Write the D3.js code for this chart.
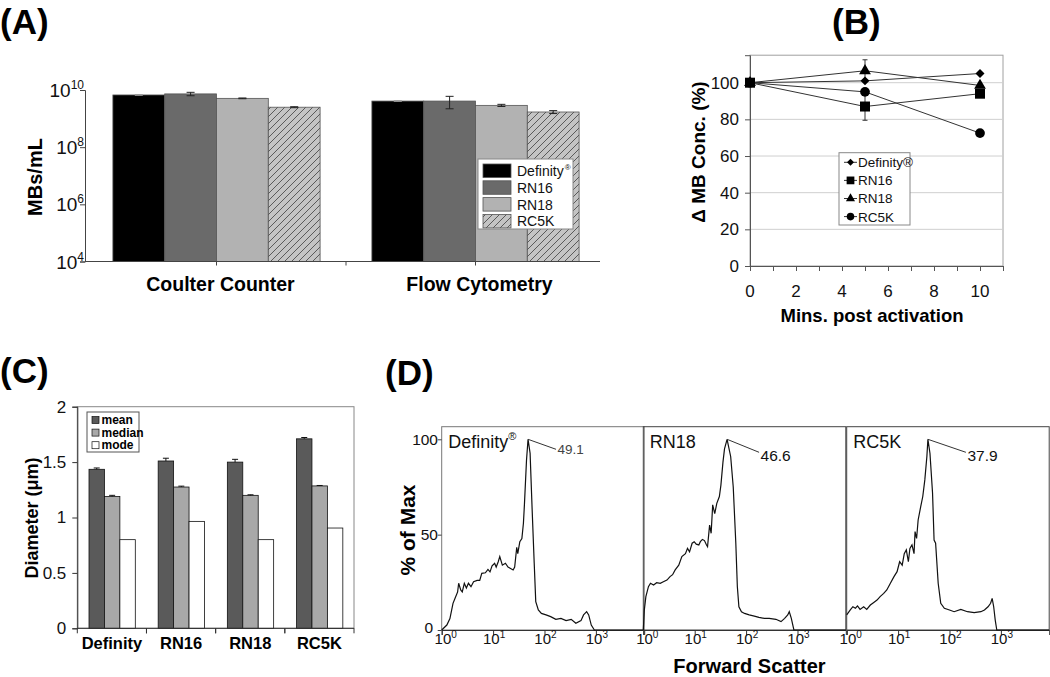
<!DOCTYPE html>
<html><head><meta charset="utf-8">
<script src="https://cdn.jsdelivr.net/npm/d3@7"></script>
<style>body{margin:0;background:#fff}svg{display:block}text{font-family:Arial,"Liberation Sans",sans-serif}</style>
</head><body><svg id="c" width="1050" height="677"></svg>
<script>
// ---------- DATA ----------
// Panel A
const aCategories = ["Coulter Counter", "Flow Cytometry"];
const aSeries = ["Definity", "RN16", "RN18", "RC5K"];
const aDefinity = [6.7e9, 4.1e9];
const aRN16 = [7.3e9, 4.1e9];
const aRN18 = [5.1e9, 2.9e9];
const aRC5K = [2.5e9, 1.7e9];
const aDefinityErr = [0.2e9, 0.1e9];
const aRN16Err = [1.0e9, 1.9e9];
const aRN18Err = [0.15e9, 0.25e9];
const aRC5KErr = [0.1e9, 0.2e9];
const aTickExps = [4, 6, 8, 10];

// Panel B
const bTimes = [0, 5, 10];
const bSeries = ["Definity®", "RN16", "RN18", "RC5K"];
const bDefinity = [100, 101, 105];
const bRN16 = [100, 87, 94];
const bRN18 = [100, 106.5, 98.5];
const bRC5K = [100, 95, 72.5];
const bRN16Err = [0, 7.5, 0];
const bRN18Err = [0, 6, 0];
const bYTicks = [0, 20, 40, 60, 80, 100];
const bXTicks = [0, 2, 4, 6, 8, 10];

// Panel C
const cCategories = ["Definity", "RN16", "RN18", "RC5K"];
const cSeries = ["mean", "median", "mode"];
const cMean = [1.435, 1.51, 1.50, 1.71];
const cMedian = [1.19, 1.275, 1.20, 1.285];
const cMode = [0.80, 0.965, 0.80, 0.905];
const cMeanErr = [0.012, 0.025, 0.025, 0.012];
const cMedianErr = [0.01, 0.008, 0.005, 0.004];
const cYTicks = [0, 0.5, 1, 1.5, 2];

// Panel D (x given as log10 of forward scatter, y as % of max)
const dNames = ["Definity", "RN18", "RC5K"];
const dPeakLabels = ["49.1", "46.6", "37.9"];
const dDefinityLog = [0,0.1,0.16,0.22,0.26,0.31,0.33,0.37,0.4,0.44,0.48,0.52,0.57,0.62,0.69,0.74,0.78,0.85,0.9,0.94,0.98,1.03,1.06,1.1,1.13,1.18,1.24,1.29,1.34,1.39,1.42,1.46,1.48,1.52,1.56,1.59,1.61,1.65,1.68,1.72,1.76,1.8,1.83,1.88,1.94,2.03,2.12,2.22,2.32,2.42,2.52,2.61,2.71,2.76,2.82,2.86,2.91,2.97,3.94];
const dDefinityPct = [0,2.6,6,14,16.6,20,24.5,21,20,24.5,22,24.5,22.7,25.3,26,26,29.7,30,31.8,30.5,33.6,35,33,35.8,38.5,34,35,33,32.3,31.5,33,43.4,40,46.3,48,56,66,89,100,92.7,63,35,14.9,10.5,8.7,7.9,7,5.6,6.1,4.9,5.6,3.5,4.9,7.9,9.6,7.9,2.6,0,0];
const dRN18Log = [0,0.02,0.05,0.1,0.14,0.2,0.26,0.33,0.39,0.46,0.52,0.57,0.62,0.69,0.75,0.82,0.86,0.9,0.95,0.99,1.03,1.08,1.11,1.15,1.19,1.23,1.25,1.29,1.32,1.35,1.39,1.43,1.48,1.51,1.55,1.58,1.63,1.7,1.75,1.8,1.83,1.86,1.91,1.97,2.06,2.16,2.25,2.35,2.45,2.58,2.68,2.75,2.81,2.84,2.88,2.93,3.94];
const dRN18Pct = [0,10.5,17.5,22.7,24.5,23.6,24.8,24.5,25.3,26.2,28,29,31.5,34,38.5,40,42.8,41,45.5,46.3,45,44.6,46.3,47.5,46.9,44.6,43.7,55,50.7,65.6,61,66.4,70,76,88,95,100,91,75,45.5,22.7,12.2,9.6,8.7,7.9,7.3,6.6,6.1,6.1,5.6,4.4,6.1,7.9,9.6,6.1,0,0];
const dRC5KLog = [0,0.07,0.12,0.17,0.21,0.26,0.33,0.39,0.46,0.52,0.59,0.65,0.72,0.78,0.85,0.92,0.98,1.03,1.08,1.12,1.16,1.2,1.23,1.27,1.31,1.33,1.36,1.39,1.44,1.48,1.52,1.56,1.58,1.62,1.67,1.7,1.73,1.78,1.83,1.9,2.0,2.09,2.22,2.35,2.48,2.61,2.68,2.75,2.8,2.83,2.86,2.89,2.92,3.94];
const dRC5KPct = [7.9,10.5,12.2,11.4,12.6,10.8,12.2,10.8,13.1,14.3,15.7,17.5,19.2,21,24.5,28,30.6,35.8,34,40,42,35.8,42.8,44.6,40,51.6,48,57.7,64.7,70,78.7,91,100,92.7,72,47.2,45.5,24.5,14,11.4,10.5,9.6,10.8,9.6,9.1,9.6,10.5,12.2,14,16.6,12.2,5.2,0,0];
const dXTickExps = [0, 1, 2, 3];
const dYTicks = [0, 50, 100];

// ---------- DRAWING ----------
const svg = d3.select("#c");
const defs = svg.append("defs");
const pat = defs.append("pattern").attr("id", "hatch").attr("patternUnits", "userSpaceOnUse")
  .attr("width", 7).attr("height", 7);
pat.append("rect").attr("width", 7).attr("height", 7).attr("fill", "#c4c4c4");
pat.append("path").attr("d", "M-1,1 l2,-2 M0,7 l7,-7 M6,8 l2,-2").attr("stroke", "#5a5a5a").attr("stroke-width", 1);

function supText(g, x, y, base, exp, fs, fsExp, anchor, weight) {
  const t = g.append("text").attr("x", x).attr("y", y).attr("text-anchor", anchor || "start")
    .attr("font-size", fs).attr("fill", "#111");
  if (weight) t.attr("font-weight", weight);
  t.append("tspan").text(base);
  t.append("tspan").attr("font-size", fsExp).attr("dy", -fs * 0.42).text(exp);
  return t;
}

// Panel labels
[["(A)", 0, 34], ["(B)", 832, 34], ["(C)", 0, 383], ["(D)", 385, 385]].forEach(p => {
  svg.append("text").attr("x", p[1]).attr("y", p[2]).attr("font-size", 35).attr("font-weight", "bold").text(p[0]);
});

// ===== Panel A =====
(function () {
  const g = svg.append("g");
  const yA = d3.scaleLog().domain([1e4, 1e10]).range([261.5, 90]);
  const xA = d3.scaleBand().domain(aCategories).range([87, 605]).paddingInner(0.2).paddingOuter(0.1);
  const xS = d3.scaleBand().domain(aSeries).range([0, xA.bandwidth()]);
  const vals = [aDefinity, aRN16, aRN18, aRC5K];
  const errs = [aDefinityErr, aRN16Err, aRN18Err, aRC5KErr];
  const fills = ["#000000", "#6a6a6a", "#b2b2b2", "url(#hatch)"];
  aSeries.forEach((s, si) => {
    aCategories.forEach((c, ci) => {
      const v = vals[si][ci];
      g.append("rect").attr("x", xA(c) + xS(s)).attr("y", yA(v))
        .attr("width", xS.bandwidth()).attr("height", yA(1e4) - yA(v))
        .attr("fill", fills[si]).attr("stroke", "#555").attr("stroke-width", 0.8);
    });
  });
  aSeries.forEach((s, si) => {
    aCategories.forEach((c, ci) => {
      const v = vals[si][ci], e = errs[si][ci];
      const cx = xA(c) + xS(s) + xS.bandwidth() / 2;
      const col = si === 0 ? "#999" : "#222";
      g.append("path").attr("d", `M${cx},${yA(v + e)}V${yA(v - e)}M${cx - 4},${yA(v + e)}h8M${cx - 4},${yA(v - e)}h8`)
        .attr("stroke", col).attr("stroke-width", 1).attr("fill", "none");
    });
  });
  // y axis
  const minor = [];
  for (let e = 4; e < 10; e++) for (let m = 2; m <= 9; m++) minor.push(m * Math.pow(10, e));
  const ax = g.append("g").attr("transform", "translate(85,0)");
  ax.call(d3.axisLeft(yA).tickValues(minor).tickSize(3).tickFormat(""));
  ax.call(d3.axisLeft(yA).tickValues(aTickExps.map(e => Math.pow(10, e))).tickSize(5).tickFormat(""));
  ax.selectAll("path,line").attr("stroke", "#444");
  aTickExps.forEach(e => {
    supText(g, 84, yA(Math.pow(10, e)) + 7, "10", String(e), 19, 12, "end");
  });
  // x axis
  const yb = yA(1e4);
  g.append("line").attr("x1", 85).attr("x2", 600).attr("y1", yb).attr("y2", yb).attr("stroke", "#444");
  const c0 = xA(aCategories[0]), c1 = xA(aCategories[1]);
  const tickXs = [c0 + xA.bandwidth() / 2, (c0 + xA.bandwidth() + c1) / 2, c1 + xA.bandwidth() / 2];
  tickXs.forEach(x => g.append("line").attr("x1", x).attr("x2", x).attr("y1", yb).attr("y2", yb + 4).attr("stroke", "#444"));
  aCategories.forEach(c => {
    g.append("text").attr("x", xA(c) + xA.bandwidth() / 2 + 4).attr("y", 291).attr("text-anchor", "middle")
      .attr("font-size", 19.5).attr("font-weight", "bold").text(c);
  });
  g.append("text").attr("transform", "translate(42,177) rotate(-90)").attr("text-anchor", "middle")
    .attr("font-size", 20).attr("font-weight", "bold").text("MBs/mL");
  // legend
  const lg = g.append("g").attr("transform", "translate(478,159)");
  lg.append("rect").attr("width", 95).attr("height", 70).attr("fill", "#fff").attr("stroke", "#888");
  aSeries.forEach((s, i) => {
    lg.append("rect").attr("x", 5).attr("y", 5 + i * 16.8).attr("width", 28).attr("height", 13.5)
      .attr("fill", fills[i]).attr("stroke", "#555").attr("stroke-width", 0.8);
    const t = lg.append("text").attr("x", 39).attr("y", 17 + i * 16.8).attr("font-size", 14).attr("fill", "#111");
    t.append("tspan").text(s);
    if (i === 0) t.append("tspan").attr("font-size", 8).attr("dy", -6).attr("dx", 1).text("®");
  });
})();

// ===== Panel B =====
(function () {
  const g = svg.append("g");
  const xB = d3.scaleLinear().domain([0, 11]).range([750, 1003]);
  const yB = d3.scaleLinear().domain([0, 115]).range([266, 55.2]);
  g.append("rect").attr("x", 750).attr("y", yB(115)).attr("width", 253).attr("height", yB(0) - yB(115))
    .attr("fill", "none").attr("stroke", "#a0a0a0");
  bYTicks.filter(v => v > 0).forEach(v => g.append("line").attr("x1", 750).attr("x2", 1003)
    .attr("y1", yB(v)).attr("y2", yB(v)).attr("stroke", "#cfcfcf"));
  const ay = g.append("g").attr("transform", "translate(750,0)")
    .call(d3.axisLeft(yB).tickValues(bYTicks).tickSize(5).tickPadding(6).tickFormat(d3.format("d")));
  ay.select(".domain").attr("stroke", "#555");
  ay.selectAll("line").attr("stroke", "#555");
  ay.selectAll("text").attr("font-size", 17).attr("fill", "#111").attr("font-family", 'Arial,"Liberation Sans",sans-serif');
  const axx = g.append("g").attr("transform", "translate(0,266)")
    .call(d3.axisBottom(xB).tickValues(d3.range(0, 12)).tickSize(5).tickFormat(""));
  axx.selectAll("path,line").attr("stroke", "#555");
  bXTicks.forEach(v => g.append("text").attr("x", xB(v)).attr("y", 296.5).attr("text-anchor", "middle")
    .attr("font-size", 17).attr("fill", "#111").text(v));
  g.append("text").attr("x", 872).attr("y", 321.5).attr("text-anchor", "middle").attr("font-size", 18.5)
    .attr("font-weight", "bold").text("Mins. post activation");
  g.append("text").attr("transform", "translate(705,152) rotate(-90)").attr("text-anchor", "middle")
    .attr("font-size", 19).attr("font-weight", "bold").text("Δ MB Conc. (%)");
  const data = [bDefinity, bRN16, bRN18, bRC5K];
  const symbols = [
    { t: d3.symbolSquare, s: 40, r: 45 },
    { t: d3.symbolSquare, s: 100, r: 0 },
    { t: d3.symbolTriangle, s: 60, r: 0 },
    { t: d3.symbolCircle, s: 75, r: 0 }];
  const line = d3.line().x((d, i) => xB(bTimes[i])).y(d => yB(d));
  data.forEach(arr => g.append("path").attr("d", line(arr)).attr("fill", "none").attr("stroke", "#333").attr("stroke-width", 1));
  const errSets = [[bRN16, bRN16Err], [bRN18, bRN18Err]];
  errSets.forEach(([v, e]) => bTimes.forEach((t, i) => {
    if (!e[i]) return;
    const x = xB(t);
    g.append("path").attr("d", `M${x},${yB(v[i] + e[i])}V${yB(v[i] - e[i])}M${x - 2.5},${yB(v[i] + e[i])}h5M${x - 2.5},${yB(v[i] - e[i])}h5`)
      .attr("stroke", "#333").attr("fill", "none");
  }));
  data.forEach((arr, si) => arr.forEach((v, i) => {
    g.append("path").attr("d", d3.symbol().type(symbols[si].t).size(symbols[si].s)())
      .attr("transform", `translate(${xB(bTimes[i])},${yB(v)}) rotate(${symbols[si].r})`).attr("fill", "#000");
  }));
  // legend
  const lg = g.append("g").attr("transform", "translate(839,152.7)");
  lg.append("rect").attr("width", 71).attr("height", 72.3).attr("fill", "#fff").attr("stroke", "#888");
  bSeries.forEach((s, i) => {
    const y = 9.6 + i * 18.1;
    lg.append("line").attr("x1", 5).attr("x2", 18).attr("y1", y).attr("y2", y).attr("stroke", "#333");
    lg.append("path").attr("d", d3.symbol().type(symbols[i].t).size(symbols[i].s * 0.6)())
      .attr("transform", `translate(11.5,${y}) rotate(${symbols[i].r})`).attr("fill", "#000");
    lg.append("text").attr("x", 19).attr("y", y + 5).attr("font-size", 13.5).attr("fill", "#111").text(s);
  });
})();

// ===== Panel C =====
(function () {
  const g = svg.append("g");
  const yC = d3.scaleLinear().domain([0, 2]).range([628.3, 406.7]);
  const xC = d3.scaleBand().domain(cCategories).range([77.3, 354]);
  const xS = d3.scaleBand().domain(cSeries).range([11.7, 58]);
  g.append("rect").attr("x", 77.3).attr("y", yC(2)).attr("width", 354 - 77.3).attr("height", yC(0) - yC(2))
    .attr("fill", "none").attr("stroke", "#888");
  const vals = [cMean, cMedian, cMode];
  const errs = [cMeanErr, cMedianErr, null];
  const fills = ["#5a5a5a", "#a8a8a8", "#ffffff"];
  cSeries.forEach((s, si) => cCategories.forEach((c, ci) => {
    const v = vals[si][ci];
    g.append("rect").attr("x", xC(c) + xS(s)).attr("y", yC(v)).attr("width", xS.bandwidth())
      .attr("height", yC(0) - yC(v)).attr("fill", fills[si]).attr("stroke", "#111").attr("stroke-width", 0.8);
    if (errs[si]) {
      const cx = xC(c) + xS(s) + xS.bandwidth() / 2, e = errs[si][ci];
      g.append("path").attr("d", `M${cx},${yC(v)}V${yC(v + e)}M${cx - 3},${yC(v + e)}h6`).attr("stroke", "#111").attr("fill", "none");
    }
  }));
  const ay = g.append("g").attr("transform", "translate(77.3,0)")
    .call(d3.axisLeft(yC).tickValues(cYTicks).tickSize(5).tickPadding(6).tickFormat(d => String(d)));
  ay.selectAll("path,line").attr("stroke", "#333");
  ay.selectAll("text").attr("font-size", 17).attr("fill", "#111").attr("font-family", 'Arial,"Liberation Sans",sans-serif');
  g.append("line").attr("x1", 77.3).attr("x2", 354).attr("y1", yC(0)).attr("y2", yC(0)).attr("stroke", "#333");
  cCategories.forEach((c, i) => {
    [xC(c), xC(c) + xC.bandwidth()].forEach(x => g.append("line").attr("x1", x).attr("x2", x)
      .attr("y1", yC(0)).attr("y2", yC(0) + 5).attr("stroke", "#333"));
    g.append("text").attr("x", xC(c) + xC.bandwidth() / 2).attr("y", 648.5).attr("text-anchor", "middle")
      .attr("font-size", 16.5).attr("font-weight", "bold").text(c);
  });
  g.append("text").attr("transform", "translate(38,518) rotate(-90)").attr("text-anchor", "middle")
    .attr("font-size", 18).attr("font-weight", "bold").text("Diameter (μm)");
  const lg = g.append("g").attr("transform", "translate(87,412)");
  lg.append("rect").attr("width", 52).attr("height", 40).attr("fill", "#fff").attr("stroke", "#555");
  cSeries.forEach((s, i) => {
    const y = 8 + i * 12.6;
    lg.append("rect").attr("x", 5).attr("y", y - 3.5).attr("width", 7).attr("height", 7)
      .attr("fill", fills[i]).attr("stroke", "#111").attr("stroke-width", 0.7);
    lg.append("text").attr("x", 14.5).attr("y", y + 4).attr("font-size", 12).attr("font-weight", "bold").text(s);
  });
})();

// ===== Panel D =====
(function () {
  const g = svg.append("g");
  const lefts = [441.7, 643.3, 846.7];
  const W = 202.5, top = 426.7;
  const yD = d3.scaleLinear().domain([0, 100]).range([630, 439.3]);
  const logs = [dDefinityLog, dRN18Log, dRC5KLog];
  const pcts = [dDefinityPct, dRN18Pct, dRC5KPct];
  const titles = ["Definity", "RN18", "RC5K"];
  lefts.forEach((L, pi) => {
    const xD = d3.scaleLog().domain([1, Math.pow(10, 3.94)]).range([L, L + W]);
    g.append("rect").attr("x", L).attr("y", top).attr("width", W).attr("height", yD(0) - top)
      .attr("fill", "none").attr("stroke", pi === 0 ? "#777" : "#444");
    // x minor/major ticks
    const minor = [];
    for (let e = 0; e < 4; e++) for (let m = 2; m <= 9; m++) { const v = m * Math.pow(10, e); if (v <= Math.pow(10, 3.94)) minor.push(v); }
    const ax = g.append("g").attr("transform", `translate(0,${yD(0)})`);
    ax.call(d3.axisBottom(xD).tickValues(minor).tickSize(3).tickFormat(""));
    ax.call(d3.axisBottom(xD).tickValues(dXTickExps.map(e => Math.pow(10, e))).tickSize(5).tickFormat(""));
    ax.selectAll("path,line").attr("stroke", "#333");
    dXTickExps.forEach(e => supText(g, xD(Math.pow(10, e)) + (e === 0 ? 4 : 1), 644, "10", String(e), 15, 10, "middle"));
    // curve
    const line = d3.line().x(d => xD(Math.pow(10, d[0]))).y(d => yD(d[1]));
    const pts = logs[pi].map((v, i) => [v, pcts[pi][i]]);
    g.append("path").attr("d", line(pts)).attr("fill", "none").attr("stroke", "#111").attr("stroke-width", 1.2);
    // title
    const t = g.append("text").attr("x", L + 6.5).attr("y", 448.3).attr("font-size", 18).attr("fill", "#111");
    t.append("tspan").text(titles[pi]);
    if (pi === 0) t.append("tspan").attr("font-size", 11).attr("dy", -8).text("®");
    // peak label
    const pk = pts.reduce((a, b) => (b[1] > a[1] ? b : a));
    const px = xD(Math.pow(10, pk[0])), py = yD(pk[1]);
    const dx = [28, 32, 38][pi], dy = [10, 13, 13][pi];
    g.append("line").attr("x1", px).attr("y1", py).attr("x2", px + dx).attr("y2", py + dy).attr("stroke", "#333");
    g.append("text").attr("x", px + dx + 1.5).attr("y", py + dy + (pi === 0 ? 4.5 : 8.5))
      .attr("font-size", pi === 0 ? 13.5 : 15.5).attr("fill", pi === 0 ? "#444" : "#111").text(dPeakLabels[pi]);
  });
  // y axis on first panel
  const ay = g.append("g").attr("transform", `translate(${lefts[0]},0)`);
  ay.call(d3.axisLeft(yD).tickValues(d3.range(0, 101, 10)).tickSize(2).tickFormat(""));
  ay.call(d3.axisLeft(yD).tickValues(dYTicks).tickSize(4).tickFormat(""));
  ay.selectAll("path").remove();
  ay.selectAll("line").attr("stroke", "#444");
  dYTicks.forEach(v => g.append("text").attr("x", v === 0 ? 433 : 438).attr("y", yD(v) + (v === 0 ? 3 : 5.5)).attr("text-anchor", "end")
    .attr("font-size", 15.5).attr("fill", "#111").text(v));
  g.append("text").attr("transform", "translate(415,530) rotate(-90)").attr("text-anchor", "middle")
    .attr("font-size", 21).attr("font-weight", "bold").text("% of Max");
  g.append("text").attr("x", 749.5).attr("y", 672.5).attr("text-anchor", "middle")
    .attr("font-size", 20).attr("font-weight", "bold").text("Forward Scatter");
})();
</script></body></html>
